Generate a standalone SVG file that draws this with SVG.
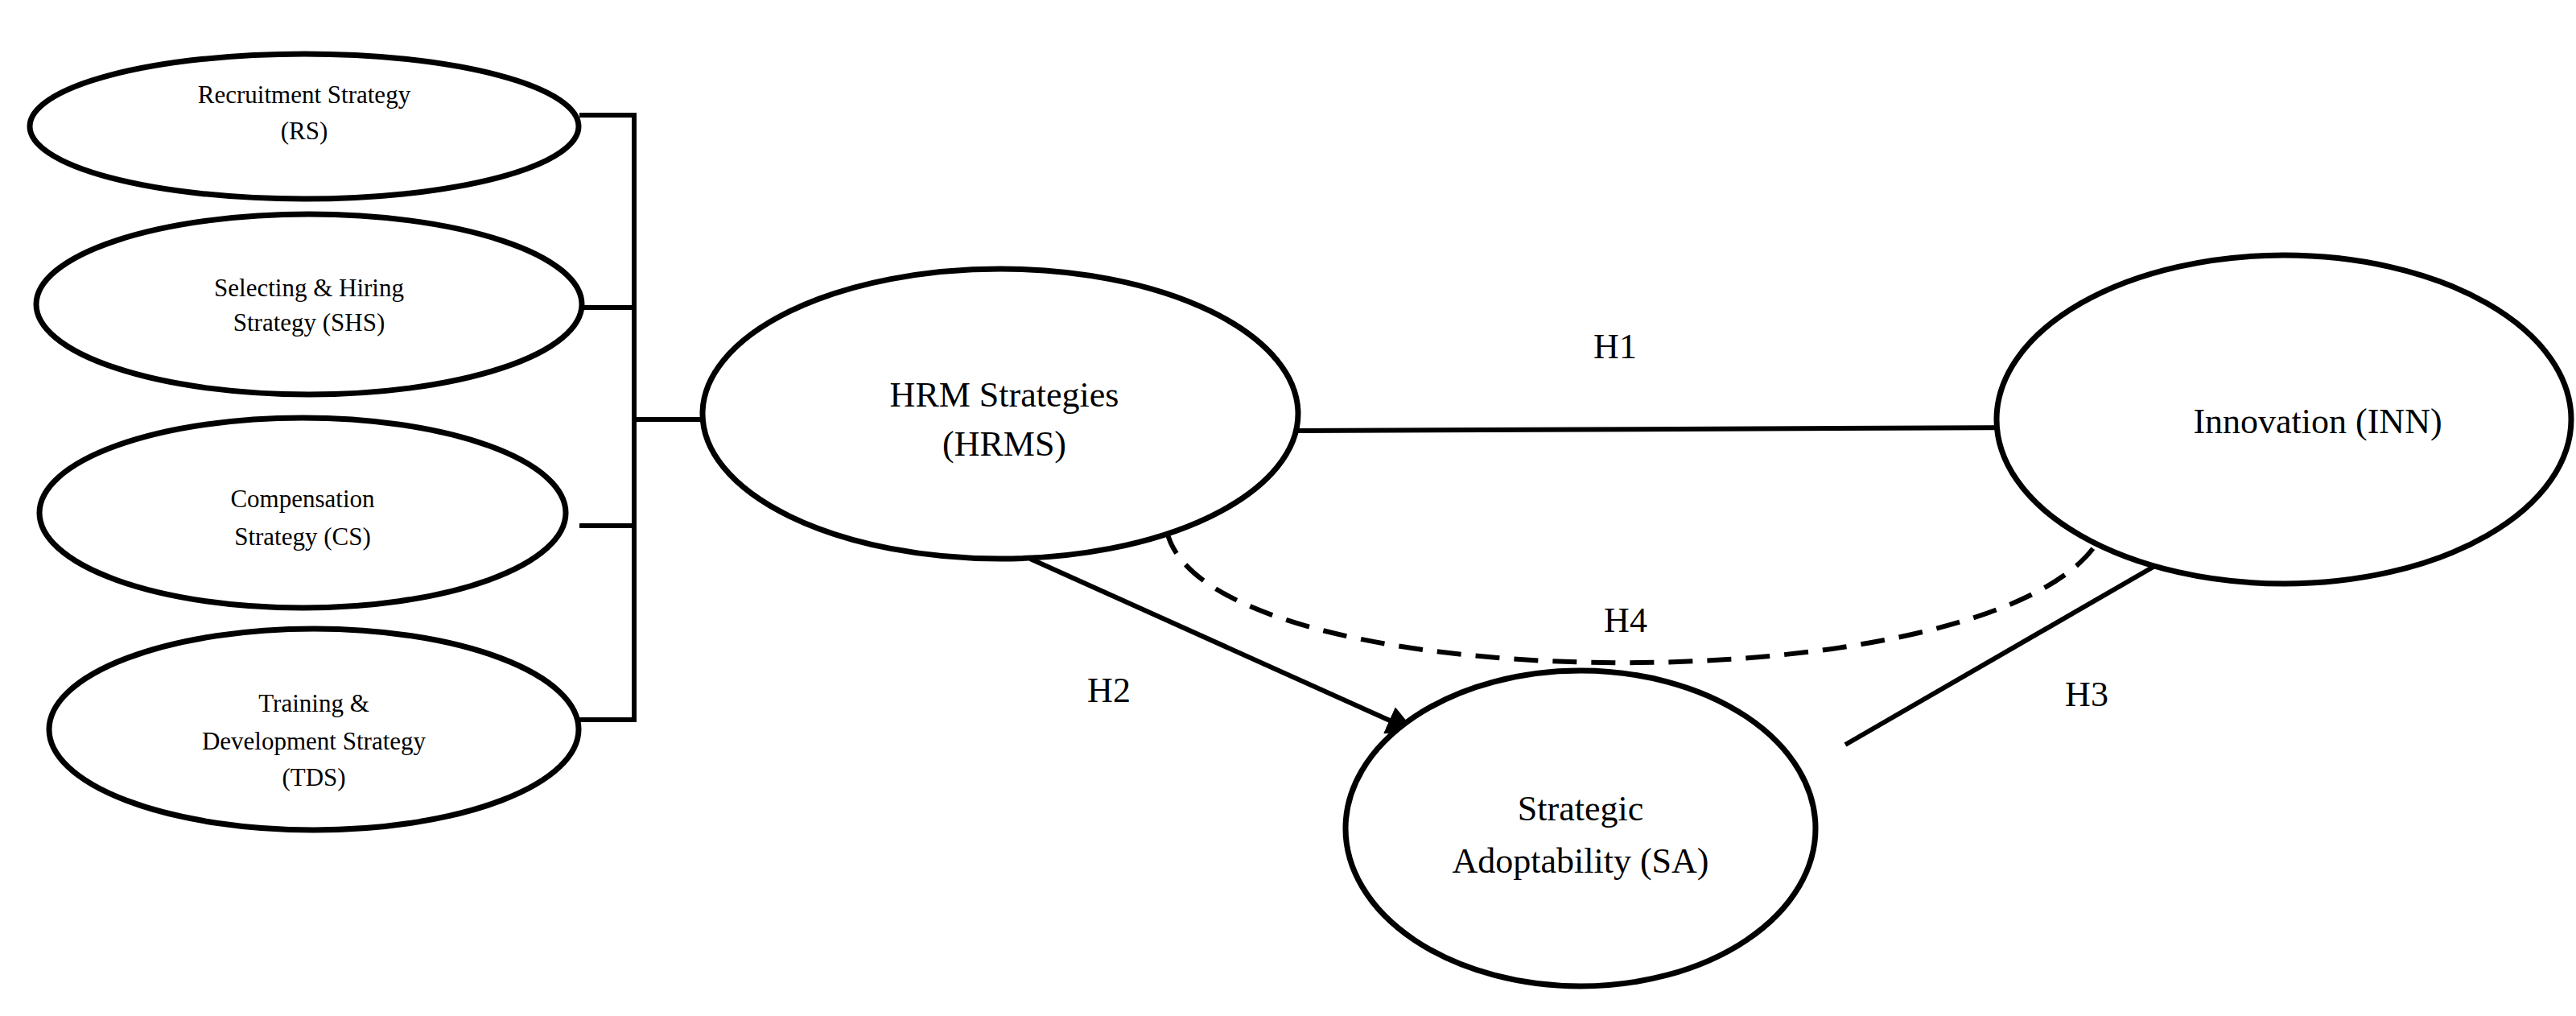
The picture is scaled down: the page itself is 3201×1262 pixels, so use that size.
<svg xmlns="http://www.w3.org/2000/svg" width="3201" height="1262" viewBox="0 0 3201 1262">
<style>
.n{fill:#fff;stroke:#000;stroke-width:7}
.s{font-family:"Liberation Serif",serif;font-size:31px;text-anchor:middle}
.b{font-family:"Liberation Serif",serif;font-size:44px;text-anchor:middle}
.c{fill:none;stroke:#000;stroke-width:6}
</style>
<defs><marker id="a" viewBox="0 0 10 10" refX="9" refY="5" markerWidth="6" markerHeight="6" markerUnits="strokeWidth" orient="auto"><path d="M0,0L10,5L0,10z"/></marker></defs>
<rect width="3201" height="1262" fill="#fff"/>
<g id="connectors">
<path class="c" d="M720,143 H788 V894 H720 M726,382 H788 M720,653 H788 M788,521 H872"/>
<path class="c" d="M1613,535 L2525,531" marker-end="url(#a)"/>
<path class="c" d="M1280,694 L1756,908" marker-end="url(#a)"/>
<path class="c" d="M2293,925 L2721,678" marker-end="url(#a)"/>
<path class="c" d="M1450,660 C1500,880 2560,880 2619,645" stroke-dasharray="30,18"/>
<text class="b" x="2007" y="445">H1</text>
<text class="b" x="1378" y="872">H2</text>
<text class="b" x="2593" y="877">H3</text>
<text class="b" x="2020" y="785">H4</text>
</g>
<g id="rs"><ellipse class="n" cx="378" cy="157" rx="341" ry="90"/><text class="s" x="378" y="128">Recruitment Strategy</text><text class="s" x="378" y="173">(RS)</text></g>
<g id="shs"><ellipse class="n" cx="384" cy="378" rx="339" ry="112"/><text class="s" x="384" y="368">Selecting &amp; Hiring</text><text class="s" x="384" y="411">Strategy (SHS)</text></g>
<g id="cs"><ellipse class="n" cx="376" cy="637" rx="327" ry="118"/><text class="s" x="376" y="630">Compensation</text><text class="s" x="376" y="677">Strategy (CS)</text></g>
<g id="tds"><ellipse class="n" cx="390" cy="906" rx="329" ry="125"/><text class="s" x="390" y="884">Training &amp;</text><text class="s" x="390" y="931">Development Strategy</text><text class="s" x="390" y="976">(TDS)</text></g>
<g id="hrms"><ellipse class="n" cx="1243" cy="514" rx="370" ry="180"/><text class="b" x="1248" y="505">HRM Strategies</text><text class="b" x="1248" y="566">(HRMS)</text></g>
<g id="inn"><ellipse class="n" cx="2838" cy="521" rx="357" ry="204"/><text class="b" x="2880" y="538">Innovation (INN)</text></g>
<g id="sa"><ellipse class="n" cx="1964" cy="1029" rx="292" ry="196"/><text class="b" x="1964" y="1019">Strategic</text><text class="b" x="1964" y="1084">Adoptability (SA)</text></g>
</svg>
